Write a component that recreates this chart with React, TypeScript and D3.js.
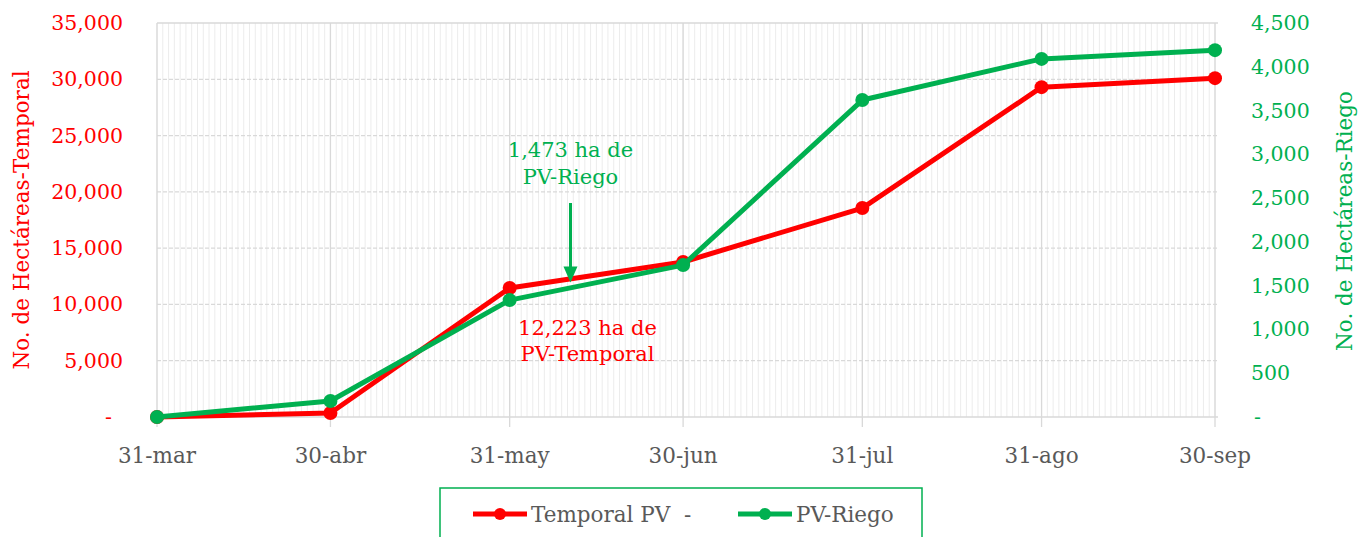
import React, { useEffect, useRef } from 'react';
import * as d3 from 'd3';

// month-end cut dates
const dates = ['2023-03-31', '2023-04-30', '2023-05-31', '2023-06-30', '2023-07-31', '2023-08-31', '2023-09-30'];
const dateLabels = ['31-mar', '30-abr', '31-may', '30-jun', '31-jul', '31-ago', '30-sep'];
// hectares, temporal (left axis) and riego (right axis)
const temporal = [0, 350, 11460, 13770, 18560, 29300, 30100];
const riego = [0, 183, 1335, 1735, 3620, 4090, 4190];
const leftTicks = [0, 5000, 10000, 15000, 20000, 25000, 30000, 35000];
const rightTicks = [0, 500, 1000, 1500, 2000, 2500, 3000, 3500, 4000, 4500];
// annotation
const noteDate = '2023-06-10';
const noteTemporal = 12223;
const noteRiego = 1473;

const RED = '#ff0000';
const GREEN = '#00b050';
const FONT = 'DejaVu Serif';

function App() {
  const ref = useRef<SVGSVGElement>(null);

  useEffect(() => {
    const m = { left: 157, right: 1215, top: 23, bottom: 417 };

    const svg = d3.select(ref.current);
    svg.selectAll('*').remove();

    const parse = d3.timeParse('%Y-%m-%d');
    const xs = dates.map(d => parse(d) as Date);

    const x = d3.scaleTime().domain([xs[0], xs[xs.length - 1]]).range([m.left, m.right]);
    const yL = d3.scaleLinear().domain([0, 35000]).range([m.bottom, m.top]);
    const yR = d3.scaleLinear().domain([0, 4500]).range([m.bottom, m.top]);
    const fmt = (v: number) => (v === 0 ? '-' : d3.format(',')(v));

    // daily minor gridlines
    const days = d3.timeDay.range(xs[0], d3.timeDay.offset(xs[xs.length - 1], 1));
    svg.append('g').selectAll('line').data(days).enter().append('line')
      .attr('x1', d => x(d)).attr('x2', d => x(d))
      .attr('y1', m.top).attr('y2', m.bottom)
      .attr('stroke', '#ececec').attr('stroke-width', 1);

    // horizontal gridlines
    svg.append('g').selectAll('line').data(leftTicks.slice(1)).enter().append('line')
      .attr('x1', m.left).attr('x2', m.right + 3)
      .attr('y1', d => yL(d)).attr('y2', d => yL(d))
      .attr('stroke', '#d9d9d9').attr('stroke-width', 1.3)
      .attr('stroke-dasharray', d => (d === 35000 ? null : '4,2'));

    // month gridlines + ticks
    svg.append('g').selectAll('line').data(xs).enter().append('line')
      .attr('x1', d => x(d)).attr('x2', d => x(d))
      .attr('y1', m.top).attr('y2', m.bottom + 10)
      .attr('stroke', '#d9d9d9').attr('stroke-width', 1.3);

    // bottom axis line
    svg.append('line')
      .attr('x1', m.left).attr('x2', m.right + 3)
      .attr('y1', m.bottom).attr('y2', m.bottom)
      .attr('stroke', '#d9d9d9').attr('stroke-width', 1.3);

    // x labels
    svg.append('g').selectAll('text').data(xs).enter().append('text')
      .attr('x', d => x(d)).attr('y', 463)
      .attr('text-anchor', 'middle')
      .attr('font-family', FONT).attr('font-size', 21.5).attr('fill', '#595959')
      .text((d, i) => dateLabels[i]);

    // left ticks
    svg.append('g').selectAll('text').data(leftTicks).enter().append('text')
      .attr('x', d => (d === 0 ? 112 : 123)).attr('y', d => yL(d) + 7)
      .attr('text-anchor', 'end')
      .attr('font-family', FONT).attr('font-size', 20.5).attr('fill', RED)
      .text(d => fmt(d));

    // right ticks
    svg.append('g').selectAll('text').data(rightTicks).enter().append('text')
      .attr('x', d => (d === 0 ? 1254 : 1251)).attr('y', d => yR(d) + 7)
      .attr('text-anchor', 'start')
      .attr('font-family', FONT).attr('font-size', 20.5).attr('fill', GREEN)
      .text(d => fmt(d));

    // axis titles
    svg.append('text')
      .attr('transform', `translate(29, 220) rotate(-90)`)
      .attr('text-anchor', 'middle')
      .attr('font-family', FONT).attr('font-size', 21.5).attr('fill', RED)
      .text('No. de Hectáreas-Temporal');
    svg.append('text')
      .attr('transform', `translate(1352, 221) rotate(-90)`)
      .attr('text-anchor', 'middle')
      .attr('font-family', FONT).attr('font-size', 21.5).attr('fill', GREEN)
      .text('No. de Hectáreas-Riego');

    // lines
    const lineL = d3.line<number>().x((d, i) => x(xs[i])).y(d => yL(d));
    const lineR = d3.line<number>().x((d, i) => x(xs[i])).y(d => yR(d));

    svg.append('path').datum(temporal).attr('d', lineL)
      .attr('fill', 'none').attr('stroke', RED).attr('stroke-width', 5).attr('stroke-linejoin', 'round');
    svg.append('g').selectAll('circle').data(temporal).enter().append('circle')
      .attr('cx', (d, i) => x(xs[i])).attr('cy', d => yL(d)).attr('r', 7).attr('fill', RED);

    svg.append('path').datum(riego).attr('d', lineR)
      .attr('fill', 'none').attr('stroke', GREEN).attr('stroke-width', 5).attr('stroke-linejoin', 'round');
    svg.append('g').selectAll('circle').data(riego).enter().append('circle')
      .attr('cx', (d, i) => x(xs[i])).attr('cy', d => yR(d)).attr('r', 7).attr('fill', GREEN);

    // annotation arrow
    const nx = x(parse(noteDate) as Date) + 3;
    const tipY = yL(noteTemporal) + 3;
    svg.append('line')
      .attr('x1', nx).attr('x2', nx).attr('y1', 203).attr('y2', tipY - 14)
      .attr('stroke', GREEN).attr('stroke-width', 3);
    svg.append('path')
      .attr('d', `M${nx - 7},${tipY - 16} L${nx + 7},${tipY - 16} L${nx},${tipY} Z`)
      .attr('fill', GREEN);

    const f = d3.format(',');
    const noteG = svg.append('g').attr('font-family', FONT).attr('font-size', 21).attr('text-anchor', 'middle');
    noteG.append('text').attr('x', nx).attr('y', 157).attr('fill', GREEN).text(`${f(noteRiego)} ha de`);
    noteG.append('text').attr('x', nx).attr('y', 184).attr('fill', GREEN).text('PV-Riego');
    noteG.append('text').attr('x', nx + 17).attr('y', 335).attr('fill', RED).text(`${f(noteTemporal)} ha de`);
    noteG.append('text').attr('x', nx + 17).attr('y', 361).attr('fill', RED).text('PV-Temporal');

    // legend
    const lg = svg.append('g');
    lg.append('rect').attr('x', 440).attr('y', 488).attr('width', 482).attr('height', 70)
      .attr('fill', 'white').attr('stroke', GREEN).attr('stroke-width', 1.5);
    const items = [
      { label: 'Temporal PV  -', color: RED, x: 473 },
      { label: 'PV-Riego', color: GREEN, x: 738 },
    ];
    items.forEach(it => {
      lg.append('line').attr('x1', it.x).attr('x2', it.x + 54).attr('y1', 514).attr('y2', 514)
        .attr('stroke', it.color).attr('stroke-width', 5);
      lg.append('circle').attr('cx', it.x + 27).attr('cy', 514).attr('r', 6).attr('fill', it.color);
      lg.append('text').attr('x', it.x + 58).attr('y', 522)
        .attr('font-family', FONT).attr('font-size', 21.5).attr('fill', '#595959')
        .attr('xml:space', 'preserve').style('white-space', 'pre')
        .text(it.label);
    });
  }, []);

  return (
    <svg ref={ref} width={1358} height={537}
      style={{ position: 'absolute', left: 0, top: 0, background: 'white' }} />
  );
}

export default App;
